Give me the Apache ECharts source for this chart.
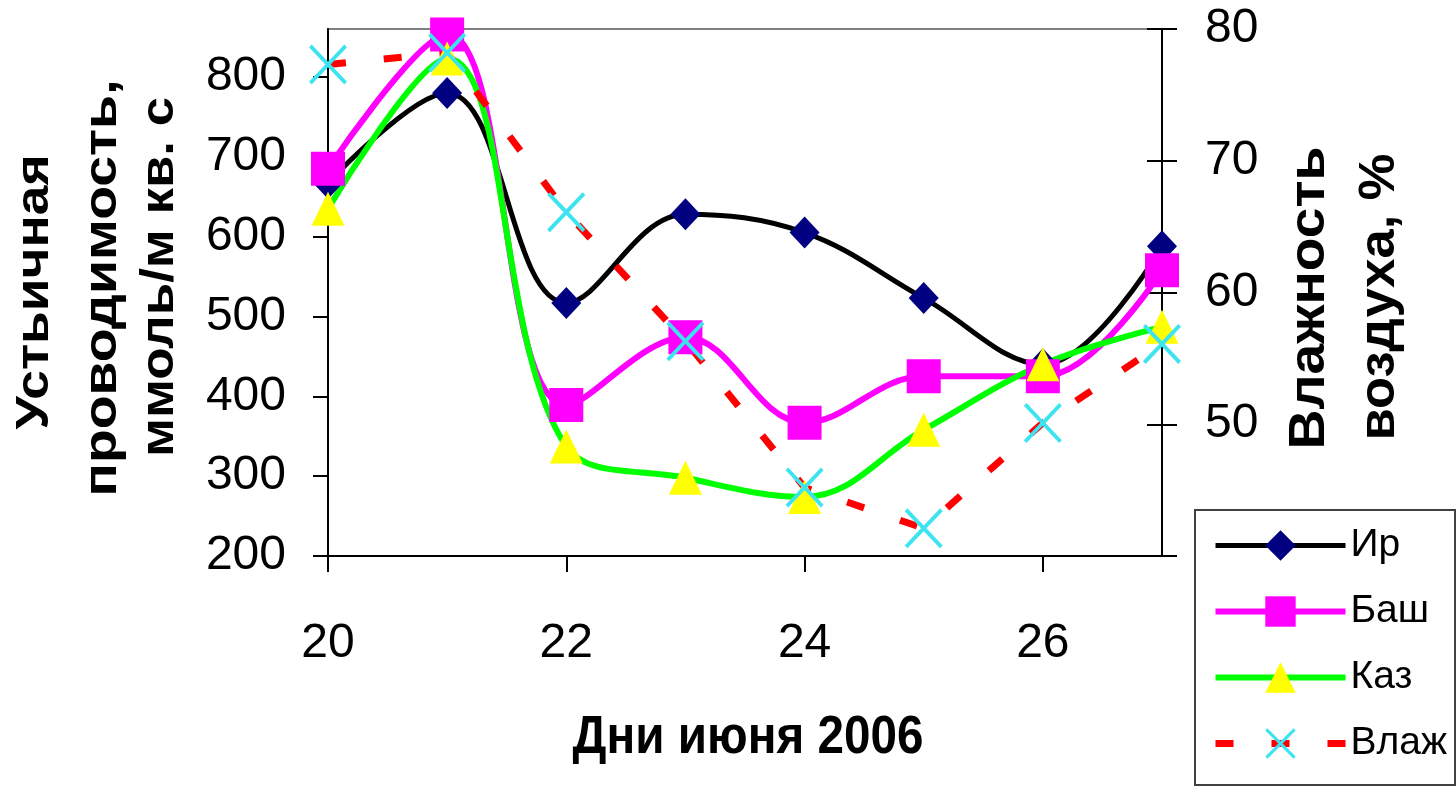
<!DOCTYPE html>
<html><head><meta charset="utf-8">
<script src="https://cdn.jsdelivr.net/npm/echarts@6/dist/echarts.min.js"></script>
<style>html,body{margin:0;padding:0;background:#fff}#c{width:1456px;height:794px}</style>
</head><body><div id="c"></div>
<script>
// ---- data ----
const days = [20, 21, 22, 23, 24, 25, 26, 27];
const seriesNames = ['Ир', 'Баш', 'Каз', 'Влаж'];
const irValues = [667, 780, 517, 628, 605, 523, 440, 588];
const bashValues = [685, 853, 389, 474, 367, 425, 425, 558];
const kazValues = [635, 823, 337, 298, 274, 358, 440, 487];
const vlazhValues = [77.3, 78.2, 66.1, 56.3, 45.2, 42.1, 50.1, 56.1];
const leftTicks = [200, 300, 400, 500, 600, 700, 800];
const rightTicks = [40, 50, 60, 70, 80];
const xTicks = [20, 22, 24, 26];
const xTitle = 'Дни июня 2006';
const leftTitleLines = ['Устьичная', 'проводимость,', 'ммоль/м кв. с'];
const rightTitleLines = ['Влажность', 'воздуха, %'];

const pairs = v => days.map((d, i) => [d, v[i]]);
const NARROW = "'Liberation Sans Narrow','Arial Narrow','Liberation Sans',Arial,sans-serif";
const BOLD = "'Liberation Sans',Arial,sans-serif";
const cv = document.createElement('canvas').getContext('2d');
function fitScale(text, size, target) {
  cv.font = 'bold ' + size + 'px ' + BOLD;
  return target / cv.measureText(text).width;
}
function title(text, x, y, size, target, rot) {
  return {
    type: 'text', x: x, y: y, rotation: rot, scaleX: fitScale(text, size, target), z: 100,
    style: { text: text, x: 0, y: 0, fontSize: size, fontWeight: 'bold', fontFamily: BOLD,
      fill: '#000', align: 'center', verticalAlign: 'middle' }
  };
}
const XMARK = 'path://M0,0.7L0.7,0L5,4.3L9.3,0L10,0.7L5.7,5L10,9.3L9.3,10L5,5.7L0.7,10L0,9.3L4.3,5Z';

const colors = { ir: '#000080', irLine: '#000000', bash: '#FF00FF', kazMark: '#FFFF00', kazLine: '#00FF00', vlMark: '#3CE4F0', vlLine: '#FF0000' };
const widths = [5, 6, 6, 7];
const dash = [18, 38];
const SMOOTH = 0.38;

const chart = echarts.init(document.getElementById('c'), null, { renderer: 'canvas' });
chart.setOption({
  animation: false,
  backgroundColor: '#fff',
  grid: { left: 328, right: 294, top: 29, bottom: 238, show: true, borderColor: '#808080', borderWidth: 2 },
  xAxis: {
    type: 'value', min: 20, max: 27,
    axisLine: { lineStyle: { color: '#000', width: 2 } },
    axisTick: { customValues: xTicks, length: 16, lineStyle: { color: '#000', width: 2 } },
    axisLabel: { customValues: xTicks, margin: 64, fontSize: 48, fontFamily: NARROW, color: '#000' },
    splitLine: { show: false }
  },
  yAxis: [
    {
      type: 'value', min: 200, max: 860, position: 'left',
      axisLine: { show: true, lineStyle: { color: '#000', width: 2 } },
      axisTick: { show: true, customValues: leftTicks, length: 15, lineStyle: { color: '#000', width: 2 } },
      axisLabel: { customValues: leftTicks, margin: 42, fontSize: 48, fontFamily: NARROW, color: '#000' },
      splitLine: { show: false }
    },
    {
      type: 'value', min: 40, max: 80, position: 'right',
      axisLine: { show: true, lineStyle: { color: '#000', width: 2 } },
      axisTick: { show: true, customValues: rightTicks, length: 15, lineStyle: { color: '#000', width: 2 } },
      axisLabel: { customValues: rightTicks, margin: 43, fontSize: 48, fontFamily: NARROW, color: '#000' },
      splitLine: { show: false }
    },
    {
      type: 'value', min: 40, max: 80, position: 'right',
      axisLine: { show: false },
      axisTick: { show: true, inside: true, customValues: rightTicks, length: 15, lineStyle: { color: '#000', width: 2 } },
      axisLabel: { show: false },
      splitLine: { show: false }
    }
  ],
  legend: {
    orient: 'vertical', left: 1195, top: 510,
    itemWidth: 130, itemHeight: 38, itemGap: 27,
    padding: [16, 8, 22, 17],
    backgroundColor: '#fff', borderColor: '#404040', borderWidth: 2, borderRadius: 0,
    textStyle: { fontSize: 39, fontFamily: BOLD, color: '#000' },
    data: [
      { name: seriesNames[0], lineStyle: { width: widths[0] } },
      { name: seriesNames[1], lineStyle: { width: widths[1] } },
      { name: seriesNames[2], lineStyle: { width: widths[2] } },
      { name: seriesNames[3], lineStyle: { width: widths[3] } }
    ],
    z: 10
  },
  series: [
    { name: seriesNames[0], type: 'line', data: pairs(irValues), smooth: SMOOTH,
      symbol: 'diamond', symbolSize: [30, 32],
      itemStyle: { color: colors.ir }, lineStyle: { color: colors.irLine, width: widths[0] } },
    { name: seriesNames[1], type: 'line', data: pairs(bashValues), smooth: SMOOTH,
      symbol: 'rect', symbolSize: 34,
      itemStyle: { color: colors.bash }, lineStyle: { color: colors.bash, width: widths[1] } },
    { name: seriesNames[2], type: 'line', data: pairs(kazValues), smooth: SMOOTH,
      symbol: 'triangle', symbolSize: [33, 34],
      itemStyle: { color: colors.kazMark }, lineStyle: { color: colors.kazLine, width: widths[2] } },
    { name: seriesNames[3], type: 'line', yAxisIndex: 1, data: pairs(vlazhValues), smooth: false,
      symbol: XMARK, symbolSize: [38, 40],
      itemStyle: { color: colors.vlMark }, lineStyle: { color: colors.vlLine, width: widths[3], type: dash } }
  ],
  graphic: [
    title(leftTitleLines[0], 35, 292, 46, 275, Math.PI / 2),
    title(leftTitleLines[1], 103, 288, 46, 417, Math.PI / 2),
    title(leftTitleLines[2], 160, 277, 46, 360, Math.PI / 2),
    title(rightTitleLines[0], 1310, 298, 50, 303, Math.PI / 2),
    title(rightTitleLines[1], 1380, 297, 50, 287, Math.PI / 2),
    title(xTitle, 748, 738, 54, 351, 0)
  ]
});
</script></body></html>
